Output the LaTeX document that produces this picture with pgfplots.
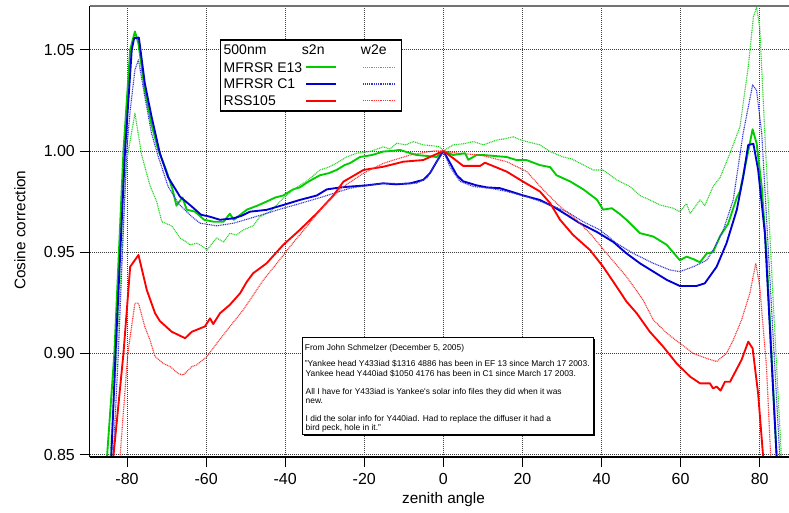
\documentclass[border=0pt]{standalone}
\usepackage{pgfplots}
\pgfplotsset{compat=1.18}
\usepackage{fontspec}
\setmainfont{Liberation Sans}
\usetikzlibrary{calc}
\definecolor{igreen}{RGB}{0,204,0}
\definecolor{iblue}{RGB}{0,0,210}
\definecolor{ired}{RGB}{255,0,0}
\tikzset{w2e/.style={line width=0.85pt, dash pattern=on 0.75pt off 0.6pt}}
\begin{document}
\begin{tikzpicture}
\begin{axis}[
  scale only axis, width=524.5pt, height=338.25pt,
  xmin=-89.46, xmax=87.4, ymin=0.8488, ymax=1.0716,
  axis line style={draw=none},
  tick align=outside, tick pos=left, major tick length=7.5pt,
  tick style={black, line width=0.6pt},
  xtick={-80,-60,...,80},
  ytick={0.85,0.90,0.95,1.00,1.05},
  yticklabel style={/pgf/number format/.cd, fixed, fixed zerofill, precision=2},
  /pgf/number format/assume math mode=true,
  ticklabel style={font=\fontsize{12}{12}\selectfont},
  xticklabel style={yshift=-1.5pt},
  grid=major,
  grid style={black!75, line width=0.55pt, dash pattern=on 0.75pt off 0.75pt},
  xlabel={zenith angle}, ylabel={Cosine correction},
  label style={font=\fontsize{11.5}{12}\selectfont},
  xlabel style={at={(axis description cs:0.506,-0.0953)}, anchor=center},
  ylabel style={at={(axis description cs:-0.0995,0.503)}, anchor=center},
  every axis plot/.append style={line join=round},
]
% MFRSR E13 s2n
\addplot[igreen, line width=1.4pt] coordinates {
(-85.2,0.845)(-83.2,0.90)(-80.9,1.0)(-79.2,1.05)(-78,1.059)(-77.1,1.053)(-75.5,1.030)(-73.8,1.013)
(-72.1,1.0005)(-70,0.990)(-68.5,0.981)(-67.5,0.973)(-66,0.977)(-64.9,0.971)(-62.8,0.970)(-60.5,0.966)
(-58,0.965)(-55.6,0.965)(-54,0.969)(-53,0.966)(-51,0.969)(-49.7,0.971)(-47,0.973)(-44.7,0.975)
(-42.5,0.977)(-40.5,0.978)(-38,0.981)(-36.3,0.982)(-34,0.985)(-31.2,0.988)(-29,0.989)(-27,0.9906)
(-25,0.993)(-23.6,0.994)(-21.1,0.997)(-18,0.998)(-15.2,0.9997)(-13,1.0)(-11,1.0005)(-8.5,0.999)
(-6.8,0.998)(-4,0.9975)(-1.7,0.997)(0,1.0)(2.5,0.998)(5.5,0.9989)(6.3,0.9956)(8.4,0.998)(10,0.998)
(13,0.9975)(16,0.997)(18.5,0.9955)(21,0.9955)(24.4,0.993)(27,0.992)(28.6,0.988)(32,0.985)(35.4,0.981)
(38.8,0.976)(40.4,0.971)(42.6,0.9717)(44.5,0.969)(46.3,0.966)(49.7,0.9594)(53.1,0.9577)(56.5,0.9536)
(59.8,0.946)(61.5,0.9478)(63.3,0.9465)(64.9,0.945)(66.6,0.9494)(68.2,0.950)(70,0.958)(72,0.964)
(74.2,0.977)(75,0.980)(77.1,1.0)(78.2,1.0107)(79.2,1.0038)(80.5,0.9824)(81.7,0.9494)(84.3,0.848)
};
% MFRSR E13 w2e
\addplot[igreen!85, w2e] coordinates {
(-84.3,0.848)(-82.6,0.90)(-80.1,0.995)(-78,1.0186)(-76.3,0.998)(-74.2,0.983)(-72.5,0.975)(-71.2,0.965)
(-68.7,0.963)(-66.6,0.957)(-64.9,0.955)(-64.1,0.9536)(-62.4,0.9544)(-61,0.953)(-59.8,0.951)(-58.2,0.955)
(-57.3,0.957)(-55.6,0.955)(-54,0.9593)(-52.3,0.9585)(-50.6,0.961)(-48.1,0.963)(-46.4,0.9675)(-43.8,0.970)
(-40.5,0.9766)(-37.9,0.981)(-34.6,0.985)(-31.2,0.9906)(-29,0.992)(-27,0.994)(-24.5,0.997)(-21.9,0.9989)
(-18.6,0.9997)(-15.2,1.002)(-13.5,1.001)(-11.8,1.0038)(-9.5,1.003)(-7.6,1.0046)(-5.1,1.003)(-2.5,1.0025)
(-0.9,1.002)(0,1.0)(2.5,1.003)(5,1.0035)(7.6,1.0046)(10.1,1.003)(13.5,1.0054)(15.5,1.006)(17.7,1.007)
(19.5,1.0055)(21.1,1.0046)(24.4,1.003)(27,0.9997)(30.3,0.997)(32.5,0.996)(34.5,0.994)(37.9,0.9906)
(40.4,0.9906)(43.8,0.9857)(47.2,0.9824)(49.7,0.978)(52.2,0.9758)(54.8,0.9733)(58.1,0.9717)(59.8,0.970)
(61.5,0.974)(62.4,0.969)(64.9,0.9758)(66.1,0.973)(68.2,0.9824)(70,0.987)(72.5,0.9989)(75,1.012)
(77.1,1.0416)(78.4,1.0663)(79.2,1.071)(80,1.061)(81.7,0.992)(83.4,0.926)(85.5,0.848)
};
% MFRSR C1 s2n
\addplot[iblue, line width=1.4pt] coordinates {
(-84,0.848)(-82.9,0.90)(-80.5,1.0)(-78.8,1.05)(-78.2,1.0557)(-77,1.056)(-75.5,1.0334)(-73.8,1.017)
(-71.7,0.9989)(-69.6,0.987)(-66.6,0.9774)(-63.6,0.9725)(-61.3,0.9685)(-59,0.9675)(-56.5,0.966)
(-53.1,0.9667)(-51,0.968)(-48.9,0.970)(-44.7,0.9709)(-40.5,0.9733)(-36.3,0.9758)(-32,0.978)(-29.5,0.981)
(-26,0.982)(-23.6,0.9824)(-19.4,0.983)(-15.2,0.984)(-12,0.9835)(-8.4,0.984)(-5.1,0.9857)(-3.4,0.989)
(-1.7,0.9947)(0,1.0)(1.7,0.994)(3.4,0.988)(5,0.985)(8.4,0.983)(11,0.982)(14.3,0.9816)(17,0.980)
(20.2,0.978)(24.4,0.9758)(27.8,0.9725)(31.2,0.9684)(34.5,0.9643)(38.8,0.960)(43,0.955)(46.3,0.9494)
(49.7,0.9445)(53.1,0.9404)(56.5,0.9363)(59.8,0.9333)(64,0.9333)(66.1,0.9346)(69.1,0.9428)(71.6,0.9544)
(74.2,0.9709)(75.8,0.987)(77.1,1.003)(78.4,1.0035)(79.6,0.9906)(81.3,0.9593)(84.3,0.848)
};
% MFRSR C1 w2e
\addplot[iblue!80, w2e] coordinates {
(-83.5,0.848)(-82.2,0.90)(-80.1,1.0)(-79.2,1.020)(-78,1.040)(-77.1,1.045)(-75.5,1.0268)(-73.8,1.0087)
(-72.1,0.9972)(-69.6,0.9824)(-67,0.974)(-63.6,0.9675)(-61.5,0.9643)(-57.3,0.963)(-53.1,0.9643)
(-48.9,0.9667)(-44.7,0.9692)(-40.5,0.9717)(-36.3,0.974)(-30.4,0.9774)(-23.6,0.9816)(-19,0.983)
(-15.2,0.984)(-10,0.9838)(-6.8,0.984)(-4.2,0.9865)(-1.7,0.9947)(0,1.0)(1.7,0.992)(4.2,0.985)(7.6,0.9824)
(11.8,0.9816)(16,0.980)(21.1,0.9774)(26.1,0.974)(31.2,0.970)(35.4,0.965)(39.6,0.961)(43.8,0.9544)
(48,0.9494)(53.1,0.9445)(57.3,0.9412)(59.8,0.9404)(63.2,0.9428)(66.6,0.946)(68.2,0.951)(70.8,0.961)
(73.3,0.9758)(75.8,1.0087)(78.2,1.0326)(79.2,1.030)(80.5,1.0087)(81.7,0.9675)(85.1,0.848)
};
% RSS105 s2n
\addplot[ired, line width=1.4pt] coordinates {
(-83.5,0.848)(-80.9,0.90)(-79.2,0.9428)(-77.1,0.9486)(-75,0.9313)(-72.9,0.9198)(-71.7,0.9160)
(-68.7,0.9107)(-65.3,0.9075)(-63.6,0.9107)(-60.3,0.9133)(-59,0.9173)(-58.2,0.9145)(-56.5,0.9198)
(-54,0.924)(-51.4,0.9297)(-49.7,0.9354)(-48.1,0.9396)(-44.7,0.9445)(-40.5,0.9536)(-36.3,0.961)
(-32,0.9692)(-27.8,0.978)(-25.3,0.9848)(-20.2,0.9906)(-15.2,0.9922)(-10.1,0.9947)(-5.1,0.9955)(0,1.0)
(2.5,0.9964)(5,0.9926)(9.3,0.9926)(10.5,0.9942)(16,0.9898)(20.2,0.9848)(24.4,0.980)(27,0.9742)
(29.5,0.966)(32.8,0.9585)(37.1,0.951)(40.4,0.9428)(43.8,0.933)(46.3,0.9256)(48.9,0.9198)(52.2,0.9107)
(55.6,0.9033)(59,0.895)(62.4,0.8885)(64.9,0.8852)(67.4,0.8852)(68.2,0.8827)(69.1,0.8836)(70.1,0.8816)
(71.2,0.886)(72.5,0.886)(75.4,0.8968)(77.1,0.9058)(78.2,0.9025)(79.6,0.880)(80.9,0.848)
};
% RSS105 w2e
\addplot[ired!80, w2e] coordinates {
(-81.8,0.848)(-79.8,0.90)(-78,0.9248)(-77.1,0.9248)(-75.5,0.9132)(-74.2,0.9066)(-72.9,0.8984)
(-70.8,0.895)(-69.1,0.8935)(-67,0.890)(-65.8,0.8893)(-63.6,0.8935)(-62.4,0.8943)(-59.8,0.8984)
(-57.3,0.905)(-54,0.9132)(-50.6,0.9215)(-48.9,0.9264)(-45.5,0.9363)(-42.1,0.9445)(-38.8,0.9527)
(-34.6,0.9626)(-30.4,0.9725)(-25.3,0.9824)(-20.2,0.989)(-15.2,0.9939)(-8.4,0.998)(-2.5,1.0)(0,1.0)
(3.4,0.9989)(9.3,0.998)(16,0.9947)(21.1,0.9898)(25.3,0.9807)(29.5,0.9725)(33.7,0.966)(37.1,0.9593)
(41.3,0.9494)(46.3,0.9379)(50.5,0.9264)(53.1,0.9165)(56.5,0.910)(59.8,0.905)(63.2,0.900)(66.6,0.8975)
(69.1,0.896)(71.6,0.900)(73.3,0.9066)(75.4,0.9165)(77.5,0.9297)(79,0.9445)(80,0.933)(81.7,0.8935)
(82.8,0.848)
};
\coordinate (LG) at (axis cs:-56.3,1.0548);
\coordinate (NB) at (axis cs:-35.75,0.9081);
\end{axis}
% axis frame
\draw[black!55, line width=1.1pt] (current axis.north west) -- (current axis.north east);
\draw[black, line width=0.8pt] (current axis.north west) -- (current axis.south west);
\draw[black, line width=1.2pt] (current axis.south west) -- (current axis.south east);
% legend
\begin{scope}[shift={(LG)}]
\draw[black, line width=0.8pt, fill=white] (0,0) rectangle (135.75pt,-53.25pt);
\begin{scope}[every node/.style={inner sep=0pt, font=\fontsize{10.5}{10.5}\selectfont}]
\node[anchor=west] at (2pt,-7.5pt) {500nm};
\node at (69.4pt,-7.5pt) {s2n};
\node at (114.75pt,-7.5pt) {w2e};
\node[anchor=west] at (2pt,-20.5pt) {MFRSR E13};
\node[anchor=west] at (2pt,-33pt) {MFRSR C1};
\node[anchor=west] at (2pt,-45.5pt) {RSS105};
\end{scope}
\draw[igreen, line width=1.4pt] (63.75pt,-20.5pt) -- (86.25pt,-20.5pt);
\draw[iblue, line width=1.4pt] (63.75pt,-33pt) -- (86.25pt,-33pt);
\draw[ired, line width=1.4pt] (63.75pt,-45.5pt) -- (86.25pt,-45.5pt);
\draw[igreen!85, w2e] (107pt,-20.5pt) -- (130pt,-20.5pt);
\draw[iblue!80, w2e] (107pt,-33pt) -- (130pt,-33pt);
\draw[ired!80, w2e] (107pt,-45.5pt) -- (130pt,-45.5pt);
\end{scope}
% note box
\begin{scope}[shift={(NB)}]
\fill[black] (1.5pt,-1.5pt) rectangle (219.75pt,-74.5pt);
\draw[black, line width=0.6pt, fill=white] (0,0) rectangle (218.25pt,-73pt);
\begin{scope}[every node/.style={inner sep=0pt, anchor=base west, font=\fontsize{6.3}{6.75}\selectfont}]
\node at (2pt,-9.95pt) {From John Schmelzer (December 5, 2005)};
\node at (2pt,-22.5pt) {"Yankee head Y433iad \$1316 4886 has been in EF 13 since March 17 2003.};
\node at (2.6pt,-29.45pt) {Yankee head Y440iad \$1050 4176 has been in C1 since March 17 2003.};
\node at (2.6pt,-42.95pt) {All I have for Y433iad is Yankee\textquotesingle s solar info files they did when it was};
\node at (2.6pt,-50pt) {new.};
\node at (2.6pt,-63.7pt) {I did the solar info for Y440iad. Had to replace the diffuser it had a};
\node at (2.6pt,-70.5pt) {bird peck, hole in it."};
\end{scope}
\end{scope}
\pgfresetboundingbox
\path[use as bounding box] ($(current axis.south west)+(-67.2pt,-41.25pt)$) rectangle ($(current axis.north east)+(0pt,4.5pt)$);
\end{tikzpicture}
\end{document}
